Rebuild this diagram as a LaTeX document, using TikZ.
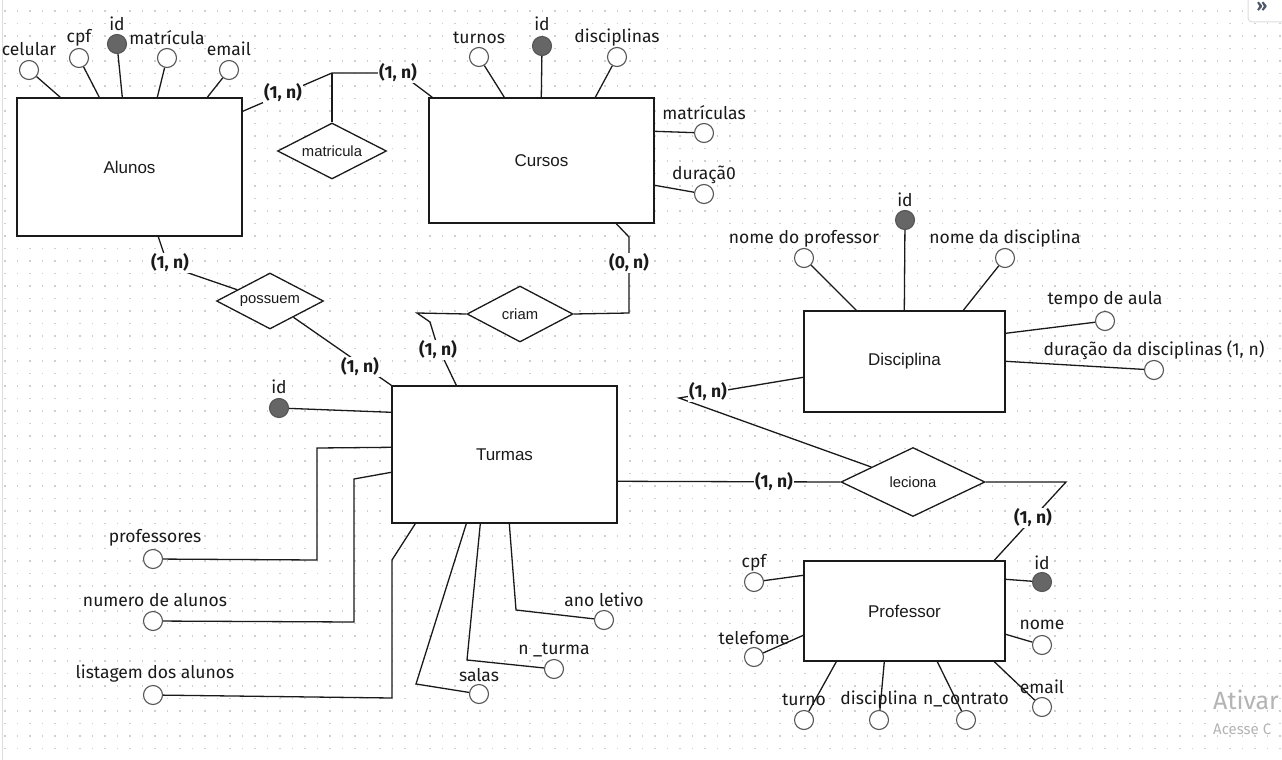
\documentclass[tikz,border=0pt]{standalone}
\usepackage{fontspec}
\setmainfont{Fira Sans}
\newfontfamily\arialfont{Liberation Sans}
\usetikzlibrary{shapes.geometric}
\definecolor{dotc}{HTML}{CFCFCF}
\definecolor{keyfill}{HTML}{666666}
\definecolor{keydraw}{HTML}{555555}
\definecolor{attrdraw}{HTML}{555555}
\definecolor{inkc}{HTML}{1A1A1A}
\definecolor{watermark}{HTML}{B4B4B4}
\definecolor{panelc}{HTML}{DDDDDD}
\definecolor{chevc}{HTML}{4A5568}
\tikzset{
  entity/.style={draw=inkc, line width=1.4pt, fill=white, inner sep=0pt,
    font=\arialfont\fontsize{17}{19}\selectfont, text=inkc},
  rel/.style={diamond, shape aspect=2, draw=inkc, line width=1.3pt, fill=white, inner sep=0pt,
    font=\arialfont\fontsize{14.8}{16}\selectfont, text=inkc},
  attr/.style={circle, draw=attrdraw, line width=1.1pt, fill=white,
    minimum size=19pt, inner sep=0pt},
  keyattr/.style={circle, draw=keydraw, line width=1.1pt, fill=keyfill,
    minimum size=19pt, inner sep=0pt},
  lbl/.style={inner sep=0pt, font=\fontsize{17.5}{19}\selectfont, text=inkc},
  card/.style={fill=white, inner sep=1pt,
    font=\bfseries\fontsize{17.5}{19}\selectfont, text=inkc},
  link/.style={draw=inkc, line width=1.3pt},
}
\begin{document}
\begin{tikzpicture}[x=1pt, y=-1pt]
\useasboundingbox (0,0) rectangle (1282,760);
\fill[white] (0,0) rectangle (1282,760);
% dotted canvas grid
\foreach \i in {0,...,102}{
  \foreach \j in {0,...,60}{
    \fill[dotc] ({5+12.5*\i-0.8},{11+12.5*\j-0.8}) rectangle ++(1.6,1.6);
  }
}
\draw[panelc, line width=1pt] (2.5,0) -- (2.5,760);

% ---------- entities ----------
\node[entity, minimum width=225pt, minimum height=138pt] (alunos) at (129.5,167) {Alunos};
\node[entity, minimum width=225pt, minimum height=125pt] (cursos) at (541.5,160.5) {Cursos};
\node[entity, minimum width=201pt, minimum height=101pt] (disciplina) at (904.5,361.5) {Disciplina};
\node[entity, minimum width=225pt, minimum height=137pt] (turmas) at (504.5,454.5) {Turmas};
\node[entity, minimum width=201pt, minimum height=100pt] (professor) at (904.5,611) {Professor};

% ---------- relationships ----------
\node[rel, minimum width=109pt, minimum height=56pt] (matricula) at (332,151) {matricula};
\node[rel, minimum width=107pt, minimum height=56pt] (possuem) at (270,301) {possuem};
\node[rel, minimum width=106pt, minimum height=56pt] (criam) at (520,314) {criam};
\node[rel, minimum width=144pt, minimum height=69pt] (leciona) at (913,482) {leciona};

% ---------- Alunos attributes ----------
\node[attr] (alCel) at (29,70) {};
\node[attr] (alCpf) at (79,58) {};
\node[keyattr] (alId) at (117,44) {};
\node[attr] (alMat) at (167,58) {};
\node[attr] (alEmail) at (229,70) {};
\node[lbl] (alCelT) at (29,49) {celular};
\node[lbl] (alCpfT) at (79,38) {cpf};
\node[lbl] (alIdT) at (117,24) {id};
\node[lbl] (alMatT) at (167,38) {matrícula};
\node[lbl] (alEmailT) at (229,49) {email};
\draw[link] (alCel) -- ([xshift=44pt]alunos.north west);
\draw[link] (alCpf) -- ([xshift=83pt]alunos.north west);
\draw[link] (alId) -- ([xshift=106pt]alunos.north west);
\draw[link] (alMat) -- ([xshift=141pt]alunos.north west);
\draw[link] (alEmail) -- ([xshift=191pt]alunos.north west);

% ---------- Cursos attributes ----------
\node[attr] (cuTur) at (479,57) {};
\node[keyattr] (cuId) at (542,46) {};
\node[attr] (cuDis) at (617,57) {};
\node[attr] (cuMat) at (704,133) {};
\node[attr] (cuDur) at (704,194) {};
\node[lbl] (cuTurT) at (479,38) {turnos};
\node[lbl] (cuIdT) at (542,24) {id};
\node[lbl] (cuDisT) at (617,38) {disciplinas};
\node[lbl] (cuMatT) at (704,113) {matrículas};
\node[lbl] (cuDurT) at (704,175) {duraçã0};
\draw[link] (cuTur) -- ([xshift=76pt]cursos.north west);
\draw[link] (cuId) -- ([xshift=113pt]cursos.north west);
\draw[link] (cuDis) -- ([xshift=167pt]cursos.north west);
\draw[link] (cuMat) -- ([yshift=-34pt]cursos.north east);
\draw[link] (cuDur) -- ([yshift=-88pt]cursos.north east);

% ---------- Disciplina attributes ----------
\node[keyattr] (diId) at (905,220) {};
\node[attr] (diProf) at (804,258) {};
\node[attr] (diNome) at (1005,258) {};
\node[attr] (diTempo) at (1105,321) {};
\node[attr] (diDur) at (1154,370) {};
\node[lbl] (diIdT) at (905,200) {id};
\node[lbl] (diProfT) at (804,239) {nome do professor};
\node[lbl] (diNomeT) at (1005,239) {nome da disciplina};
\node[lbl] (diTempoT) at (1105,300) {tempo de aula};
\node[lbl] (diDurT) at (1154,350) {duração da disciplinas (1, n)};
\draw[link] (diId) -- ([xshift=101pt]disciplina.north west);
\draw[link] (diProf) -- ([xshift=53pt]disciplina.north west);
\draw[link] (diNome) -- ([xshift=160pt]disciplina.north west);
\draw[link] (diTempo) -- ([yshift=-23pt]disciplina.north east);
\draw[link] (diDur) -- ([yshift=-51pt]disciplina.north east);

% ---------- Turmas attributes ----------
\node[keyattr] (tuId) at (279,408) {};
\node[attr] (tuProf) at (153,559) {};
\node[attr] (tuNum) at (153,621) {};
\node[attr] (tuList) at (153,695) {};
\node[attr] (tuSalas) at (479,694) {};
\node[attr] (tuNTur) at (554,669) {};
\node[attr] (tuAno) at (604,620) {};
\node[lbl] (tuIdT) at (279,387) {id};
\node[lbl] (tuProfT) at (155,538) {professores};
\node[lbl] (tuNumT) at (155,600) {numero de alunos};
\node[lbl] (tuListT) at (155,674) {listagem dos alunos};
\node[lbl] (tuSalasT) at (479,675) {salas};
\node[lbl] (tuNTurT) at (554,650) {n \_turma};
\node[lbl] (tuAnoT) at (604,600) {ano letivo};
\draw[link] (tuId) -- ([yshift=-27pt]turmas.north west);
\draw[link] ([yshift=-62pt]turmas.north west) -- (317,448) -- (317,560) -- (tuProf);
\draw[link] ([yshift=-87pt]turmas.north west) -- (354,479) -- (354,622) -- (tuNum);
\draw[link] ([xshift=24pt]turmas.south west) -- (392,560) -- (392,698) -- (tuList);
\draw[link] ([xshift=75pt]turmas.south west) -- (416,684) -- (tuSalas);
\draw[link] ([xshift=89pt]turmas.south west) -- (467,660) -- (tuNTur);
\draw[link] ([xshift=118pt]turmas.south west) -- (516,610) -- (tuAno);

% ---------- Professor attributes ----------
\node[attr] (prCpf) at (754,582) {};
\node[attr] (prTel) at (754,657) {};
\node[keyattr] (prId) at (1042,582) {};
\node[attr] (prNome) at (1042,645) {};
\node[attr] (prEmail) at (1042,707) {};
\node[attr] (prTurno) at (804,720) {};
\node[attr] (prDisc) at (879,720) {};
\node[attr] (prCont) at (966,720) {};
\draw[link] (prCpf) -- ([yshift=-15pt]professor.north west);
\draw[link] (prTel) -- ([yshift=-75pt]professor.north west);
\draw[link] (prId) -- ([yshift=-19pt]professor.north east);
\draw[link] (prNome) -- ([yshift=-74pt]professor.north east);
\draw[link] (prEmail) -- ([xshift=191pt]professor.south west);
\draw[link] (prTurno) -- ([xshift=33pt]professor.south west);
\draw[link] (prDisc) -- ([xshift=81pt]professor.south west);
\draw[link] (prCont) -- ([xshift=134pt]professor.south west);
\node[lbl] (prCpfT) at (754,563) {cpf};
\node[lbl] (prTelT) at (754,638) {telefome};
\node[lbl] (prIdT) at (1042,563) {id};
\node[lbl] (prNomeT) at (1042,625) {nome};
\node[lbl] (prEmailT) at (1042,687) {email};
\node[lbl] (prTurnoT) at (804,700) {turno};
\node[lbl] (prDiscT) at (879,700) {disciplina};
\node[lbl] (prContT) at (966,700) {n\_contrato};

% ---------- relationship connectors ----------
% Alunos -- matricula -- Cursos
\draw[link] ([yshift=-14pt]alunos.north east) -- (332,73) -- (400,73) -- ([xshift=4pt]cursos.north west);
\draw[link] (332,73) -- (matricula.north);
\node[card] (cA1) at (283,93) {(1, n)};
\node[card] (cA2) at (398,73) {(1, n)};

% Alunos -- possuem -- Turmas
\draw[link] ([xshift=142pt]alunos.south west) -- (168,266) -- (possuem);
\draw[link] (possuem) -- (turmas.north west);
\node[card] (cP1) at (170,263) {(1, n)};
\node[card] (cP2) at (360,367) {(1, n)};

% Cursos -- criam -- Turmas
\draw[link] (criam.west) -- (417,313) -- (430,322) -- (437,345) -- ([xshift=65pt]turmas.north west);
\draw[link] (criam.east) -- (629,313) -- (629,237) -- ([xshift=188pt]cursos.south west);
\node[card] (cC1) at (438,350) {(1, n)};
\node[card] (cC2) at (629,263) {(0, n)};

% Turmas / Disciplina / Professor -- leciona
\draw[link] ([yshift=-96pt]turmas.north east) -- (leciona.west);
\draw[link] ([yshift=-67pt]disciplina.north west) -- (679,398) -- (leciona);
\draw[link] (leciona.east) -- (1066,482) -- ([xshift=191pt]professor.north west);
\node[card] (cL1) at (774,482) {(1, n)};
\node[card] (cL2) at (708,392) {(1, n)};
\node[card] (cL3) at (1033,518) {(1, n)};

% ---------- screen overlays ----------
\draw[panelc, line width=1pt, fill=white, rounded corners=4pt] (1248,-6) rectangle (1295,22);
\node[inner sep=0pt, text=chevc, font=\bfseries\fontsize{17}{18}\selectfont] (chev) at (1262,7) {»};
\node[anchor=west, inner sep=0pt, text=watermark, font=\fontsize{25}{27}\selectfont] (wm1) at (1213,700) {Ativar};
\node[anchor=west, inner sep=0pt, text=watermark, font=\fontsize{15}{17}\selectfont] (wm2) at (1213,729) {Acesse C};
\end{tikzpicture}
\end{document}
